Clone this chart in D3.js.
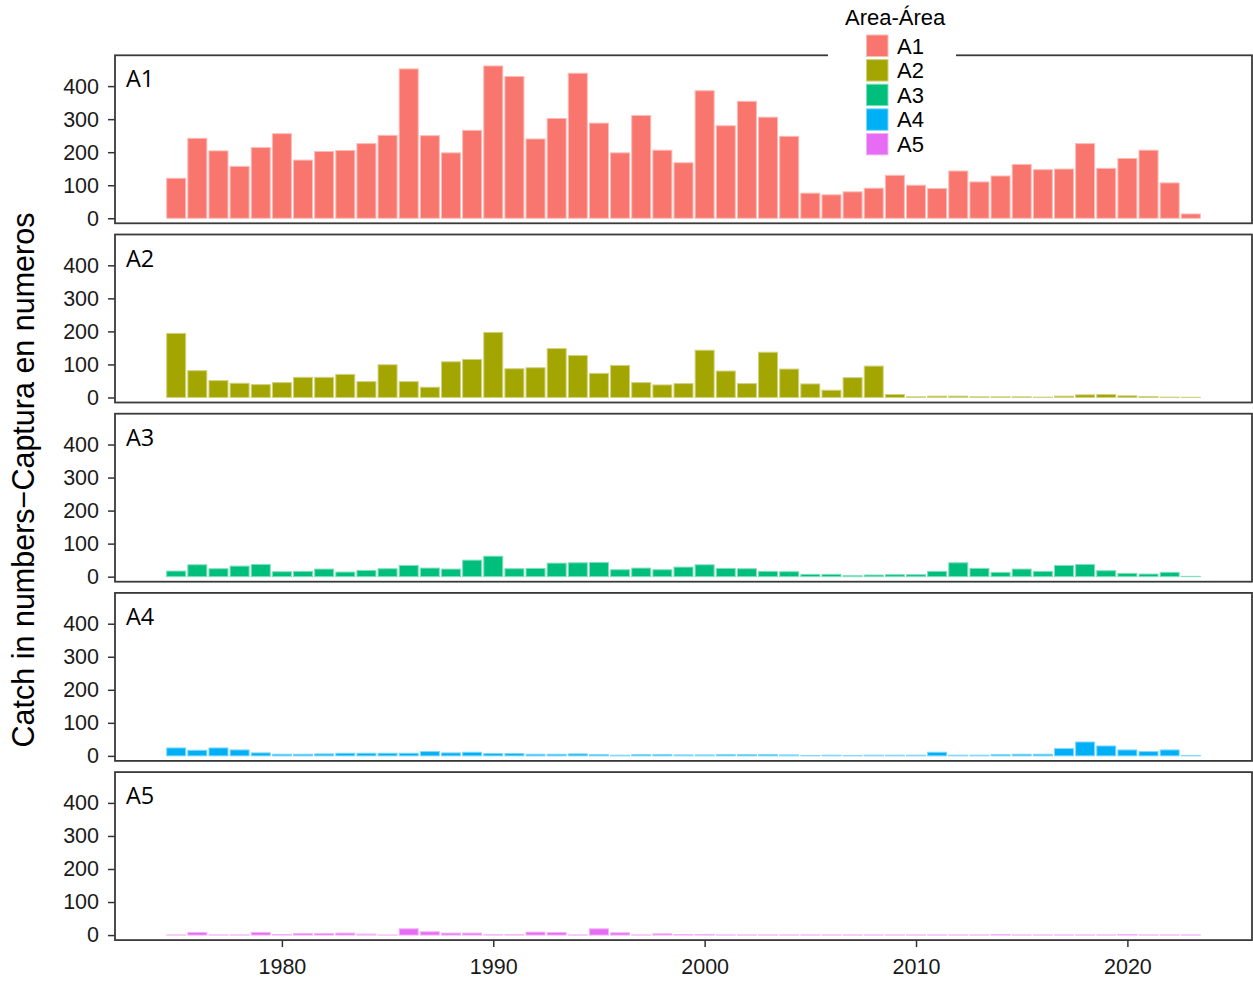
<!DOCTYPE html>
<html>
<head>
<meta charset="utf-8">
<script src="https://cdn.jsdelivr.net/npm/d3@7"></script>
<style>
  body { margin: 0; background: #fff; }
  text { font-family: "Liberation Sans", Arial, sans-serif; }
</style>
</head>
<body>
<svg id="chart" width="1253" height="982"></svg>
<script>
var years = [1975, 1976, 1977, 1978, 1979, 1980, 1981, 1982, 1983, 1984,
             1985, 1986, 1987, 1988, 1989, 1990, 1991, 1992, 1993, 1994,
             1995, 1996, 1997, 1998, 1999, 2000, 2001, 2002, 2003, 2004,
             2005, 2006, 2007, 2008, 2009, 2010, 2011, 2012, 2013, 2014,
             2015, 2016, 2017, 2018, 2019, 2020, 2021, 2022, 2023];

var areas = ["A1", "A2", "A3", "A4", "A5"];

var catchA1 = [121, 242, 204, 157, 214, 256, 176, 202, 205, 226,
               251, 452, 250, 198, 266, 461, 429, 240, 302, 439,
               288, 198, 311, 206, 168, 386, 280, 354, 306, 248,
               76, 71, 80, 91, 130, 100, 90, 143, 110, 128,
               163, 147, 149, 226, 151, 181, 206, 107, 13];
var catchA2 = [194, 81, 51, 43, 39, 45, 61, 61, 70, 48,
               99, 48, 31, 108, 115, 197, 87, 90, 148, 127,
               73, 97, 45, 38, 42, 143, 80, 42, 137, 86,
               41, 22, 60, 95, 9, 2, 4, 4, 2, 2,
               2, 1, 4, 8, 9, 5, 3, 1, 0.5];
var catchA3 = [17, 36, 24, 32, 37, 15, 16, 23, 14, 19,
               24, 34, 26, 23, 50, 62, 24, 25, 41, 42,
               43, 21, 26, 21, 29, 36, 25, 24, 16, 15,
               7, 7, 3, 5, 6, 6, 16, 42, 25, 13,
               23, 16, 34, 37, 18, 10, 8, 13, 1];
var catchA4 = [24, 17, 24, 18, 9, 5, 5, 6, 8, 8,
               8, 8, 13, 9, 11, 7, 7, 5, 5, 6,
               4, 2, 4, 4, 3, 3, 4, 4, 4, 3,
               1, 2, 1, 2, 2, 2, 11, 2, 2, 4,
               5, 5, 22, 42, 30, 18, 13, 18, 1];
var catchA5 = [0.5, 8, 0.5, 0.5, 8, 2, 5, 5, 6, 3,
               0.3, 19, 10, 6, 6, 1, 1, 9, 8, 0.5,
               19, 7, 0.5, 4, 2, 2, 0.5, 0.5, 0.5, 0.5,
               0.5, 0.5, 0.5, 0.5, 0.5, 0.5, 0.5, 0.5, 0.5, 2,
               0.5, 0.5, 0.5, 0.5, 0.5, 2, 0.5, 0.5, 0.5];

var yTicks = [0, 100, 200, 300, 400];
var xTicks = [1980, 1990, 2000, 2010, 2020];
var areaColors = ["#F8766D", "#A3A500", "#00BF7D", "#00B0F6", "#E76BF3"];

var series = [catchA1, catchA2, catchA3, catchA4, catchA5];

var panelLeft = 115, panelRight = 1252;
var panelTop = 55.3, panelH = 168, panelStep = 179.2;
var barWidth = 0.9;

var svg = d3.select('#chart');

// 5% expansion on x, like ggplot
var xMin = years[0] - barWidth / 2, xMax = years[years.length - 1] + barWidth / 2;
var xPad = (xMax - xMin) * 0.05;
var x = d3.scaleLinear()
  .domain([xMin - xPad, xMax + xPad])
  .range([panelLeft, panelRight]);

var maxVal = d3.max(series, function(s) { return d3.max(s); });
var y = d3.scaleLinear()
  .domain([-0.033 * maxVal, 1.07 * maxVal])
  .range([panelH, 0]);

var barPx = x(years[0] + barWidth) - x(years[0]);

function lighter(c) {
  return d3.interpolateRgb(c, '#ffffff')(0.5);
}

series.forEach(function(vals, i) {
  var top = panelTop + i * panelStep;
  var panel = svg.append('g')
    .attr('transform', 'translate(0,' + top + ')');

  panel.selectAll('rect.bar')
    .data(vals)
    .enter().append('rect')
    .attr('class', 'bar')
    .attr('x', function(d, j) { return x(years[j] - barWidth / 2); })
    .attr('width', barPx)
    .attr('y', function(d) { return y(d); })
    .attr('height', function(d) { return y(0) - y(d); })
    .style('fill', areaColors[i])
    .style('stroke', lighter(areaColors[i]))
    .style('stroke-width', 1);

  var yAxis = panel.append('g')
    .attr('transform', 'translate(' + panelLeft + ',0)')
    .call(d3.axisLeft(y).tickValues(yTicks).tickSize(7).tickPadding(9));
  yAxis.select('.domain').remove();
  yAxis.selectAll('line').style('stroke', '#333').style('stroke-width', 1.5);
  yAxis.selectAll('text')
    .style('font-size', '21.5px')
    .style('fill', '#1a1a1a')
    .style('font-family', '"Liberation Sans", Arial, sans-serif');

  panel.append('rect')
    .attr('x', panelLeft)
    .attr('y', 0)
    .attr('width', panelRight - panelLeft)
    .attr('height', panelH)
    .style('fill', 'none')
    .style('stroke', '#3a3a3a')
    .style('stroke-width', 1.8);

  panel.append('text')
    .attr('x', panelLeft + 11)
    .attr('y', 23)
    .attr('dominant-baseline', 'central')
    .style('font-family', '"Open Sans", "Noto Sans", sans-serif')
    .style('font-size', '23.5px')
    .style('fill', '#000')
    .text(areas[i]);

  if (i === series.length - 1) {
    var xAxis = panel.append('g')
      .attr('transform', 'translate(0,' + panelH + ')')
      .call(d3.axisBottom(x).tickValues(xTicks).tickFormat(d3.format('d'))
        .tickSize(7).tickPadding(12));
    xAxis.select('.domain').remove();
    xAxis.selectAll('line').style('stroke', '#333').style('stroke-width', 1.5);
    xAxis.selectAll('text')
      .style('font-size', '21.5px')
      .style('fill', '#1a1a1a')
      .style('font-family', '"Liberation Sans", Arial, sans-serif');
  }
});

svg.append('text')
  .attr('transform', 'translate(34,480) rotate(-90)')
  .attr('text-anchor', 'middle')
  .style('font-size', '30.5px')
  .style('fill', '#000')
  .text('Catch in numbers\u2212Captura en numeros');

// legend box overlaps the top panel border
var legend = svg.append('g');
legend.append('rect')
  .attr('x', 828)
  .attr('y', 0)
  .attr('width', 128)
  .attr('height', 163)
  .style('fill', '#fff');

legend.append('text')
  .attr('x', 845)
  .attr('y', 25)
  .style('font-size', '22px')
  .style('fill', '#000')
  .text('Area-\u00c1rea');

var keys = legend.selectAll('g.key')
  .data(areas)
  .enter().append('g')
  .attr('class', 'key')
  .attr('transform', function(d, i) { return 'translate(866,' + (34.5 + i * 24.6) + ')'; });

keys.append('rect')
  .attr('x', 0.5)
  .attr('y', 0.5)
  .attr('width', 21.5)
  .attr('height', 21.5)
  .style('fill', function(d, i) { return areaColors[i]; })
  .style('stroke', function(d, i) { return lighter(areaColors[i]); })
  .style('stroke-width', 1);

keys.append('text')
  .attr('x', 31)
  .attr('y', 11.5)
  .attr('dominant-baseline', 'central')
  .style('font-size', '22px')
  .style('fill', '#000')
  .text(function(d) { return d; });
</script>
</body>
</html>
